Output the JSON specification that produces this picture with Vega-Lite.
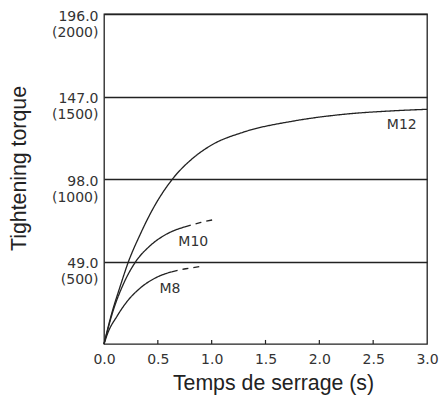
{
  "$schema": "https://vega.github.io/schema/vega-lite/v6.json",
  "width": 323,
  "height": 330,
  "autosize": {"type": "none"},
  "padding": {"left": 104, "top": 14, "right": 21, "bottom": 52},
  "background": "white",
  "config": {"view": {"stroke": "#222", "strokeWidth": 1.3}},
  "datasets": {
    "curves": [
      {"series": "M12", "style": "solid", "t": 0, "v": 0},
      {"series": "M12", "style": "solid", "t": 0.071, "v": 18.0},
      {"series": "M12", "style": "solid", "t": 0.149, "v": 34},
      {"series": "M12", "style": "solid", "t": 0.226, "v": 48.7},
      {"series": "M12", "style": "solid", "t": 0.334, "v": 64.8},
      {"series": "M12", "style": "solid", "t": 0.458, "v": 80.7},
      {"series": "M12", "style": "solid", "t": 0.629, "v": 97.4},
      {"series": "M12", "style": "solid", "t": 0.83, "v": 110.6},
      {"series": "M12", "style": "solid", "t": 1.0, "v": 118.2},
      {"series": "M12", "style": "solid", "t": 1.294, "v": 125.8},
      {"series": "M12", "style": "solid", "t": 1.758, "v": 132.4},
      {"series": "M12", "style": "solid", "t": 2.223, "v": 136.4},
      {"series": "M12", "style": "solid", "t": 2.687, "v": 138.5},
      {"series": "M12", "style": "solid", "t": 3.0, "v": 139.4},
      {"series": "M10", "style": "solid", "t": 0, "v": 0},
      {"series": "M10", "style": "solid", "t": 0.087, "v": 20.2},
      {"series": "M10", "style": "solid", "t": 0.18, "v": 35.6},
      {"series": "M10", "style": "solid", "t": 0.288, "v": 48.3},
      {"series": "M10", "style": "solid", "t": 0.427, "v": 58.3},
      {"series": "M10", "style": "solid", "t": 0.582, "v": 65.3},
      {"series": "M10", "style": "solid", "t": 0.752, "v": 69.6},
      {"series": "M10", "style": "dashed", "t": 0.752, "v": 69.6},
      {"series": "M10", "style": "dashed", "t": 0.9, "v": 72.2},
      {"series": "M10", "style": "dashed", "t": 1.031, "v": 74.0},
      {"series": "M8", "style": "solid", "t": 0, "v": 0},
      {"series": "M8", "style": "solid", "t": 0.04, "v": 7.3},
      {"series": "M8", "style": "solid", "t": 0.118, "v": 16.2},
      {"series": "M8", "style": "solid", "t": 0.21, "v": 24.9},
      {"series": "M8", "style": "solid", "t": 0.334, "v": 33.1},
      {"series": "M8", "style": "solid", "t": 0.489, "v": 39.6},
      {"series": "M8", "style": "solid", "t": 0.629, "v": 42.9},
      {"series": "M8", "style": "dashed", "t": 0.629, "v": 42.9},
      {"series": "M8", "style": "dashed", "t": 0.76, "v": 44.7},
      {"series": "M8", "style": "dashed", "t": 0.885, "v": 45.9}
    ],
    "labels": [
      {"label": "M12", "t": 2.766, "v": 130.2},
      {"label": "M10", "t": 0.829, "v": 60.6},
      {"label": "M8", "t": 0.613, "v": 32.8}
    ],
    "ticks": [
      {"t": 0.5, "v0": 0, "v1": 2.4},
      {"t": 1.0, "v0": 0, "v1": 2.4},
      {"t": 1.5, "v0": 0, "v1": 2.4},
      {"t": 2.0, "v0": 0, "v1": 2.4},
      {"t": 2.5, "v0": 0, "v1": 2.4}
    ]
  },
  "layer": [
    {
      "data": {"name": "curves"},
      "mark": {"type": "line", "color": "#222", "strokeWidth": 1.3, "interpolate": "monotone"},
      "encoding": {
        "x": {
          "field": "t",
          "type": "quantitative",
          "scale": {"domain": [0, 3], "nice": false},
          "axis": {
            "values": [0, 0.5, 1, 1.5, 2, 2.5, 3],
            "format": ".1f",
            "domain": false,
            "grid": false,
            "ticks": false,
            "labelFont": "DejaVu Sans",
            "labelFontSize": 14,
            "labelColor": "#333",
            "labelPadding": 8,
            "labelFlush": false,
            "labelOverlap": false,
            "title": "Temps de serrage (s)",
            "titleFont": "Liberation Sans",
            "titleFontSize": 21.3,
            "titleFontWeight": "normal",
            "titleColor": "#222",
            "titleX": 169,
            "titleY": 45,
            "titleBaseline": "alphabetic",
            "titleAlign": "center"
          }
        },
        "y": {
          "field": "v",
          "type": "quantitative",
          "scale": {"domain": [0, 196], "nice": false},
          "axis": {
            "values": [49, 98, 147, 196],
            "domain": false,
            "ticks": false,
            "grid": true,
            "gridColor": "#222",
            "gridWidth": 1.3,
            "gridOpacity": 1,
            "labelExpr": "[format(datum.value, '.1f'), '(' + format(datum.value / 0.098, '.0f') + ')']",
            "labelFont": "DejaVu Sans",
            "labelFontSize": 14,
            "labelColor": "#333",
            "labelPadding": 6,
            "labelBaseline": "middle",
            "labelLineHeight": 16,
            "labelOffset": 2,
            "labelFlush": false,
            "labelOverlap": false,
            "title": "Tightening torque",
            "titleFont": "Liberation Sans",
            "titleFontSize": 21.3,
            "titleFontWeight": "normal",
            "titleColor": "#222",
            "titleAngle": 270,
            "titleX": -85,
            "titleY": 154,
            "titleBaseline": "middle",
            "titleAlign": "center"
          }
        },
        "detail": [{"field": "series"}, {"field": "style"}],
        "strokeDash": {
          "field": "style",
          "type": "nominal",
          "scale": {"domain": ["solid", "dashed"], "range": [[1, 0], [6, 5]]},
          "legend": null
        }
      }
    },
    {
      "data": {"name": "ticks"},
      "mark": {"type": "rule", "color": "#222", "strokeWidth": 1.2},
      "encoding": {
        "x": {"field": "t", "type": "quantitative"},
        "y": {"field": "v0", "type": "quantitative"},
        "y2": {"field": "v1"}
      }
    },
    {
      "data": {"name": "labels"},
      "mark": {"type": "text", "font": "DejaVu Sans", "fontSize": 14, "color": "#333"},
      "encoding": {
        "x": {"field": "t", "type": "quantitative"},
        "y": {"field": "v", "type": "quantitative"},
        "text": {"field": "label"}
      }
    }
  ]
}
